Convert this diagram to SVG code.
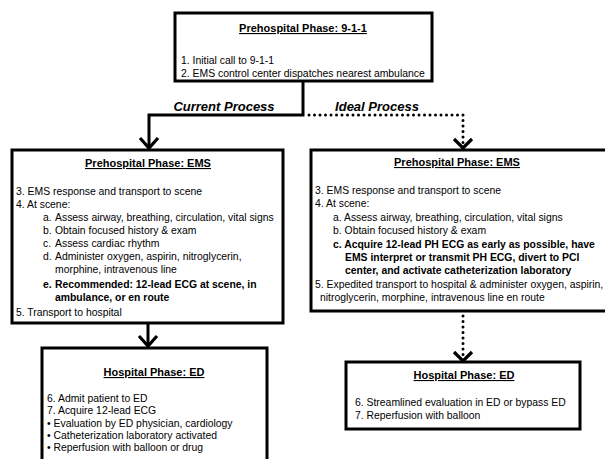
<svg xmlns="http://www.w3.org/2000/svg" width="605" height="459" viewBox="0 0 605 459">
<style>
.box{fill:#fff;stroke:#000;stroke-width:3}
text{font-family:"Liberation Sans",Arial,sans-serif;font-size:10.4px;fill:#000}
.t{font-weight:bold;font-size:11px;text-decoration:underline;text-anchor:middle}
.b{font-weight:bold}
.lbl{font-weight:bold;font-style:italic;font-size:13px;text-anchor:middle}
.solid{fill:none;stroke:#000;stroke-width:3}
.dot{fill:none;stroke:#000;stroke-width:3;stroke-linecap:round;stroke-dasharray:0 5.5}
.head{fill:none;stroke:#000;stroke-width:3.2}
</style>
<rect width="605" height="459" fill="#fff"/>
<g id="connectors">
<path class="solid" d="M303 81 V115 H149 V147"/>
<path class="head" d="M140 138 L149 148 L158 138"/>
<path class="dot" d="M309 115 H463 V146"/>
<path class="head" d="M454 139 L463 148 L472 139"/>
<path class="solid" d="M148 323 V346"/>
<path class="head" d="M139 336 L148 346 L157 336"/>
<path class="dot" d="M463 316 V360"/>
<path class="head" d="M454 352 L463 361 L472 352"/>
<text class="lbl" x="224" y="111">Current Process</text>
<text class="lbl" x="377" y="111">Ideal Process</text>
</g>
<g id="node-911">
<rect class="box" x="175" y="13" width="257" height="68"/>
<text class="t" x="303" y="32">Prehospital Phase: 9-1-1</text>
<text x="181" y="64">1. Initial call to 9-1-1</text>
<text x="181" y="77">2. EMS control center dispatches nearest ambulance</text>
</g>
<g id="node-ems-current">
<rect class="box" x="12" y="150" width="271" height="173"/>
<text class="t" x="148" y="167">Prehospital Phase: EMS</text>
<text x="16" y="195">3. EMS response and transport to scene</text>
<text x="16" y="208">4. At scene:</text>
<text x="43" y="221">a.</text><text x="55" y="221">Assess airway, breathing, circulation, vital signs</text>
<text x="43" y="234">b.</text><text x="55" y="234">Obtain focused history &amp; exam</text>
<text x="43" y="247">c.</text><text x="55" y="247">Assess cardiac rhythm</text>
<text x="43" y="260">d.</text><text x="55" y="260">Administer oxygen, aspirin, nitroglycerin,</text>
<text x="55" y="273">morphine, intravenous line</text>
<text class="b" x="43" y="288">e.</text><text class="b" x="55" y="288">Recommended: 12-lead ECG at scene, in</text>
<text class="b" x="55" y="301">ambulance, or en route</text>
<text x="16" y="316">5. Transport to hospital</text>
</g>
<g id="node-ems-ideal">
<rect class="box" x="311" y="150" width="296" height="161"/>
<text class="t" x="457" y="166">Prehospital Phase: EMS</text>
<text x="315" y="194">3. EMS response and transport to scene</text>
<text x="315" y="207">4. At scene:</text>
<text x="333" y="221">a. Assess airway, breathing, circulation, vital signs</text>
<text x="333" y="234">b. Obtain focused history &amp; exam</text>
<text class="b" x="333" y="248">c. Acquire 12-lead PH ECG as early as possible, have</text>
<text class="b" x="345" y="261">EMS interpret or transmit PH ECG, divert to PCI</text>
<text class="b" x="345" y="274">center, and activate catheterization laboratory</text>
<text x="315" y="288">5. Expedited transport to hospital &amp; administer oxygen, aspirin,</text>
<text x="320" y="301">nitroglycerin, morphine, intravenous line en route</text>
</g>
<g id="node-ed-current">
<rect class="box" x="42" y="348" width="225" height="120"/>
<text class="t" x="154" y="376">Hospital Phase: ED</text>
<text x="47" y="402">6. Admit patient to ED</text>
<text x="47" y="414">7. Acquire 12-lead ECG</text>
<text x="47" y="427">• Evaluation by ED physician, cardiology</text>
<text x="47" y="439">• Catheterization laboratory activated</text>
<text x="47" y="451">• Reperfusion with balloon or drug</text>
</g>
<g id="node-ed-ideal">
<rect class="box" x="346" y="362" width="234" height="67"/>
<text class="t" x="464" y="379">Hospital Phase: ED</text>
<text x="355" y="406">6. Streamlined evaluation in ED or bypass ED</text>
<text x="355" y="419">7. Reperfusion with balloon</text>
</g>
</svg>
